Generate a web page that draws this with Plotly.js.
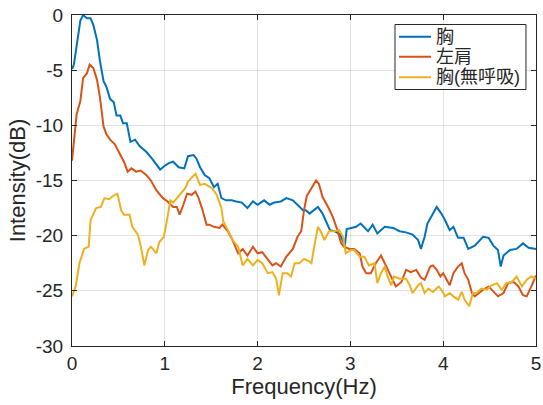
<!DOCTYPE html>
<html>
<head>
<meta charset="utf-8">
<script src="https://cdn.plot.ly/plotly-3.0.1.min.js"></script>
<style>html,body{margin:0;padding:0;background:#fff;}#chart{width:543px;height:405px;}</style>
</head>
<body>
<div id="chart"></div>
<script>
// 胸 (chest)
const chestX = [0,0.02,0.05,0.07,0.09,0.12,0.16,0.20,0.23,0.27,0.30,0.34,0.37,0.41,0.45,0.48,0.52,0.55,0.59,0.63,0.68,0.73,0.80,0.86,0.91,0.95,1.01,1.05,1.09,1.15,1.21,1.25,1.31,1.34,1.38,1.43,1.48,1.53,1.57,1.61,1.66,1.72,1.77,1.83,1.89,1.95,2.00,2.07,2.13,2.18,2.25,2.31,2.38,2.45,2.49,2.52,2.56,2.59,2.65,2.70,2.73,2.78,2.83,2.89,2.94,2.96,3.01,3.06,3.11,3.19,3.24,3.29,3.37,3.46,3.53,3.60,3.67,3.73,3.76,3.80,3.83,3.87,3.93,3.98,4.02,4.07,4.11,4.16,4.22,4.27,4.34,4.43,4.49,4.54,4.59,4.62,4.65,4.72,4.79,4.86,4.92,5.0];
const chestY = [-4.9,-4.5,-2.8,-1.7,-0.5,0,-0.3,-0.3,-0.9,-2.3,-4.1,-6.0,-6.5,-7.6,-7.9,-9.1,-9.1,-9.8,-9.8,-11.5,-11.3,-11.9,-12.4,-13.0,-13.6,-14.0,-13.6,-13.4,-13.3,-13.8,-13.9,-12.8,-12.7,-13.0,-13.8,-14.5,-14.8,-15.6,-15.3,-16.6,-16.8,-16.8,-16.9,-17.0,-17.5,-16.9,-17.2,-16.8,-17.2,-17.0,-16.9,-16.6,-16.8,-17.4,-17.7,-17.7,-18.0,-17.8,-17.4,-18.0,-18.6,-19.5,-19.6,-19.9,-20.9,-19.4,-19.3,-19.2,-18.9,-19.6,-19.0,-19.8,-19.2,-19.3,-19.6,-19.7,-19.9,-20.4,-21.2,-20.1,-18.9,-18.3,-17.4,-18.0,-18.6,-19.5,-19.2,-20.2,-20.2,-21.2,-20.9,-20.1,-20.2,-20.9,-21.3,-22.8,-21.8,-21.3,-21.2,-20.7,-21.1,-21.2];

// 左肩 (left shoulder)
const shoulderX = [0,0.02,0.05,0.09,0.12,0.16,0.19,0.23,0.27,0.30,0.34,0.37,0.41,0.46,0.51,0.56,0.60,0.64,0.69,0.74,0.80,0.85,0.91,0.98,1.03,1.09,1.13,1.16,1.20,1.24,1.29,1.33,1.36,1.40,1.45,1.48,1.53,1.59,1.62,1.68,1.73,1.79,1.84,1.89,1.95,2.00,2.05,2.11,2.16,2.20,2.25,2.31,2.38,2.43,2.47,2.50,2.53,2.58,2.63,2.66,2.70,2.76,2.81,2.86,2.90,2.93,2.99,3.04,3.10,3.13,3.17,3.22,3.28,3.33,3.38,3.44,3.49,3.55,3.60,3.65,3.71,3.76,3.80,3.86,3.89,3.93,3.97,4.00,4.04,4.07,4.11,4.16,4.20,4.23,4.27,4.31,4.34,4.38,4.43,4.49,4.54,4.59,4.65,4.70,4.76,4.81,4.86,4.90,4.95,5.0];
const shoulderY = [-13.2,-11.6,-9.0,-7.8,-5.7,-5.3,-4.5,-4.8,-5.9,-7.4,-10.1,-10.8,-11.3,-11.7,-12.5,-13.3,-14.2,-13.9,-14.2,-14.1,-14.5,-15.0,-15.9,-16.6,-16.9,-17.4,-17.4,-18.1,-17.2,-16.2,-16.3,-16.0,-16.5,-17.5,-19.0,-19.0,-19.2,-19.3,-19.0,-19.6,-20.4,-21.6,-21.2,-21.8,-21.0,-21.6,-21.5,-22.1,-22.7,-22.5,-22.8,-21.9,-21.2,-20.1,-19.6,-17.7,-16.4,-15.7,-15.0,-15.3,-16.5,-17.4,-18.3,-19.5,-20.7,-21.0,-21.2,-21.2,-21.6,-22.8,-23.4,-23.4,-22.4,-21.8,-22.7,-23.7,-24.6,-24.2,-23.1,-23.3,-23.1,-23.8,-24.0,-22.8,-22.7,-23.1,-23.7,-23.4,-24.0,-24.5,-23.4,-22.8,-22.5,-23.4,-24.0,-25.2,-25.5,-25.2,-24.9,-24.6,-25.1,-25.5,-25.2,-24.3,-24.2,-24.6,-25.4,-25.5,-24.6,-23.6];

// 胸(無呼吸) (chest, no breathing)
const apneaX = [0,0.04,0.08,0.13,0.18,0.20,0.26,0.31,0.35,0.40,0.46,0.49,0.53,0.56,0.62,0.65,0.71,0.74,0.78,0.82,0.85,0.91,0.94,0.99,1.03,1.06,1.09,1.12,1.16,1.22,1.25,1.31,1.33,1.38,1.43,1.51,1.56,1.61,1.63,1.68,1.73,1.79,1.84,1.89,1.95,2.00,2.05,2.11,2.16,2.20,2.23,2.27,2.32,2.36,2.40,2.45,2.50,2.55,2.58,2.61,2.65,2.68,2.72,2.77,2.83,2.88,2.92,2.95,3.01,3.04,3.10,3.15,3.20,3.26,3.29,3.33,3.37,3.40,3.44,3.47,3.53,3.60,3.64,3.67,3.73,3.76,3.80,3.84,3.89,3.95,3.98,4.02,4.07,4.11,4.16,4.20,4.23,4.28,4.32,4.36,4.41,4.47,4.52,4.58,4.63,4.68,4.74,4.79,4.85,4.90,4.95,5.0];
const apneaY = [-25.5,-24.6,-22.5,-21.2,-21.0,-18.6,-17.5,-17.4,-16.6,-16.7,-16.3,-16.2,-17.7,-18.1,-18.1,-19.2,-19.9,-20.9,-22.7,-21.3,-21.0,-21.6,-20.6,-20.1,-18.3,-16.8,-17.0,-16.7,-16.2,-15.7,-15.1,-14.5,-14.4,-15.4,-15.3,-15.7,-16.3,-17.5,-18.7,-19.5,-20.4,-21.0,-22.7,-22.1,-22.7,-22.2,-22.5,-23.4,-23.3,-23.9,-25.4,-23.4,-23.4,-23.7,-22.5,-22.5,-22.1,-22.3,-22.5,-21.0,-19.2,-19.6,-20.4,-19.6,-19.6,-19.5,-20.1,-21.6,-21.3,-21.3,-21.9,-21.9,-22.7,-22.5,-24.3,-23.4,-22.8,-23.7,-24.5,-23.7,-23.9,-23.9,-24.5,-25.2,-24.5,-24.3,-25.2,-24.8,-25.1,-24.6,-24.9,-25.5,-25.2,-25.5,-25.8,-25.1,-25.8,-26.4,-25.2,-25.2,-24.8,-24.9,-24.5,-24.3,-24.9,-24.3,-24.2,-23.7,-24.6,-24.0,-23.7,-23.9];

const xTicks = [0,1,2,3,4,5];
const yTicks = [0,-5,-10,-15,-20,-25,-30];
const yTickText = ['0','-5','-10','-15','-20','-25','-30'];

const names = ['胸','左肩','胸(無呼吸)'];
const colors = ['#0072BD','#D95319','#EDB120'];

const traces = [[chestX,chestY],[shoulderX,shoulderY],[apneaX,apneaY]].map((d,i)=>({
  x:d[0], y:d[1], type:'scatter', mode:'lines', name:names[i],
  line:{color:colors[i], width:2}, showlegend:false
}));

// Legend drawn in paper coordinates (MATLAB-style compact legend box)
const legBox = {x0:0.6961, x1:0.9784, y0:0.7749, y1:0.9713};
const legRows = [0.9344, 0.8740, 0.8118];
const shapes = [{type:'rect', xref:'paper', yref:'paper', x0:legBox.x0, x1:legBox.x1, y0:legBox.y0, y1:legBox.y1,
  line:{color:'#262626', width:1}, fillcolor:'#fff', layer:'above'}];
const annotations = [];
names.forEach((n,i)=>{
  shapes.push({type:'line', xref:'paper', yref:'paper', x0:0.7047, x1:0.7737, y0:legRows[i], y1:legRows[i],
    line:{color:colors[i], width:2}, layer:'above'});
  annotations.push({xref:'paper', yref:'paper', x:0.7802, y:legRows[i], xanchor:'left', yanchor:'middle',
    text:n, showarrow:false, font:{family:'Liberation Sans, Noto Sans CJK JP, sans-serif', size:18, color:'#262626'}});
});

const axisCommon = {
  showline:true, linecolor:'#262626', linewidth:1, mirror:'ticks',
  ticks:'inside', ticklen:5, tickcolor:'#262626',
  showgrid:true, gridcolor:'rgba(38,38,38,0.13)', gridwidth:1,
  zeroline:false,
  tickfont:{family:'Liberation Sans, Arial, sans-serif', size:19, color:'#262626'}
};

const layout = {
  width:543, height:405,
  margin:{l:72, r:7, t:15, b:59},
  paper_bgcolor:'#fff', plot_bgcolor:'#fff',
  showlegend:false,
  xaxis:Object.assign({}, axisCommon, {
    range:[0,5], tickvals:xTicks, ticktext:xTicks.map(String),
    title:{text:'Frequency(Hz)', standoff:4, font:{family:'Liberation Sans, Arial, sans-serif', size:22, color:'#262626'}}
  }),
  yaxis:Object.assign({}, axisCommon, {
    range:[-30,0], tickvals:yTicks, ticktext:yTickText, ticklabelstandoff:4,
    title:{text:'Intensity(dB)', standoff:4, font:{family:'Liberation Sans, Arial, sans-serif', size:22, color:'#262626'}}
  }),
  shapes:shapes,
  annotations:annotations
};

Plotly.newPlot('chart', traces, layout, {displayModeBar:false, staticPlot:true});
</script>
</body>
</html>
